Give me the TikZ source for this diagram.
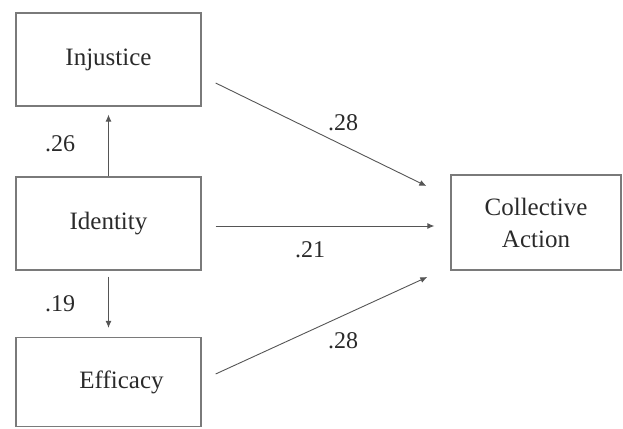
\documentclass[tikz,border=0pt]{standalone}
\usepackage{fontspec}
\setmainfont{Liberation Serif}
\usetikzlibrary{arrows.meta}
\definecolor{boxline}{HTML}{7A7A7A}
\definecolor{txt}{HTML}{2A2A2A}
\definecolor{arrline}{HTML}{555555}
\tikzset{
  var/.style={draw=boxline, line width=1.3pt, rectangle, inner sep=0pt,
    text=txt, align=center, font=\fontsize{25}{32}\selectfont},
  arr/.style={draw=arrline, line width=0.9pt, -{Latex[length=7pt,width=6pt]}},
  coef/.style={text=txt, inner sep=0pt, font=\fontsize{24}{28}\selectfont}
}
\begin{document}
\begin{tikzpicture}[x=1pt,y=-1pt]
\useasboundingbox (0,0) rectangle (623,428);
\node[var, minimum width=185pt, minimum height=93pt] (inj) at (108.5,59.5) {Injustice};
\node[var, minimum width=185pt, minimum height=93pt] (id) at (108.5,223.5) {Identity};
\node[var, minimum width=185pt, minimum height=89pt, text width=185pt] (eff) at (108.5,382) {\hspace*{26pt}Efficacy};
\node[var, minimum width=170pt, minimum height=95pt] (ca) at (536,222.5) {Collective\\Action};
\draw[arr] (id.north) -- ([yshift=-8pt]inj.south);
\draw[arr] ([yshift=-6pt]id.south) -- ([yshift=9pt]eff.north);
\draw[arr] ([xshift=14pt,yshift=-23.5pt]inj.east) -- ([xshift=-24pt,yshift=36.5pt]ca.west);
\draw[arr] ([xshift=14pt,yshift=-2.5pt]id.east) -- ([xshift=-16pt,yshift=-3.5pt]ca.west);
\draw[arr] ([xshift=14pt,yshift=8pt]eff.east) -- ([xshift=-23pt,yshift=-54.5pt]ca.west);
\node[coef] (c26) at (60,144) {.26};
\node[coef] (c19) at (60,304) {.19};
\node[coef] (c28a) at (343,123) {.28};
\node[coef] (c21) at (310,250) {.21};
\node[coef] (c28b) at (343,341) {.28};
\end{tikzpicture}
\end{document}
